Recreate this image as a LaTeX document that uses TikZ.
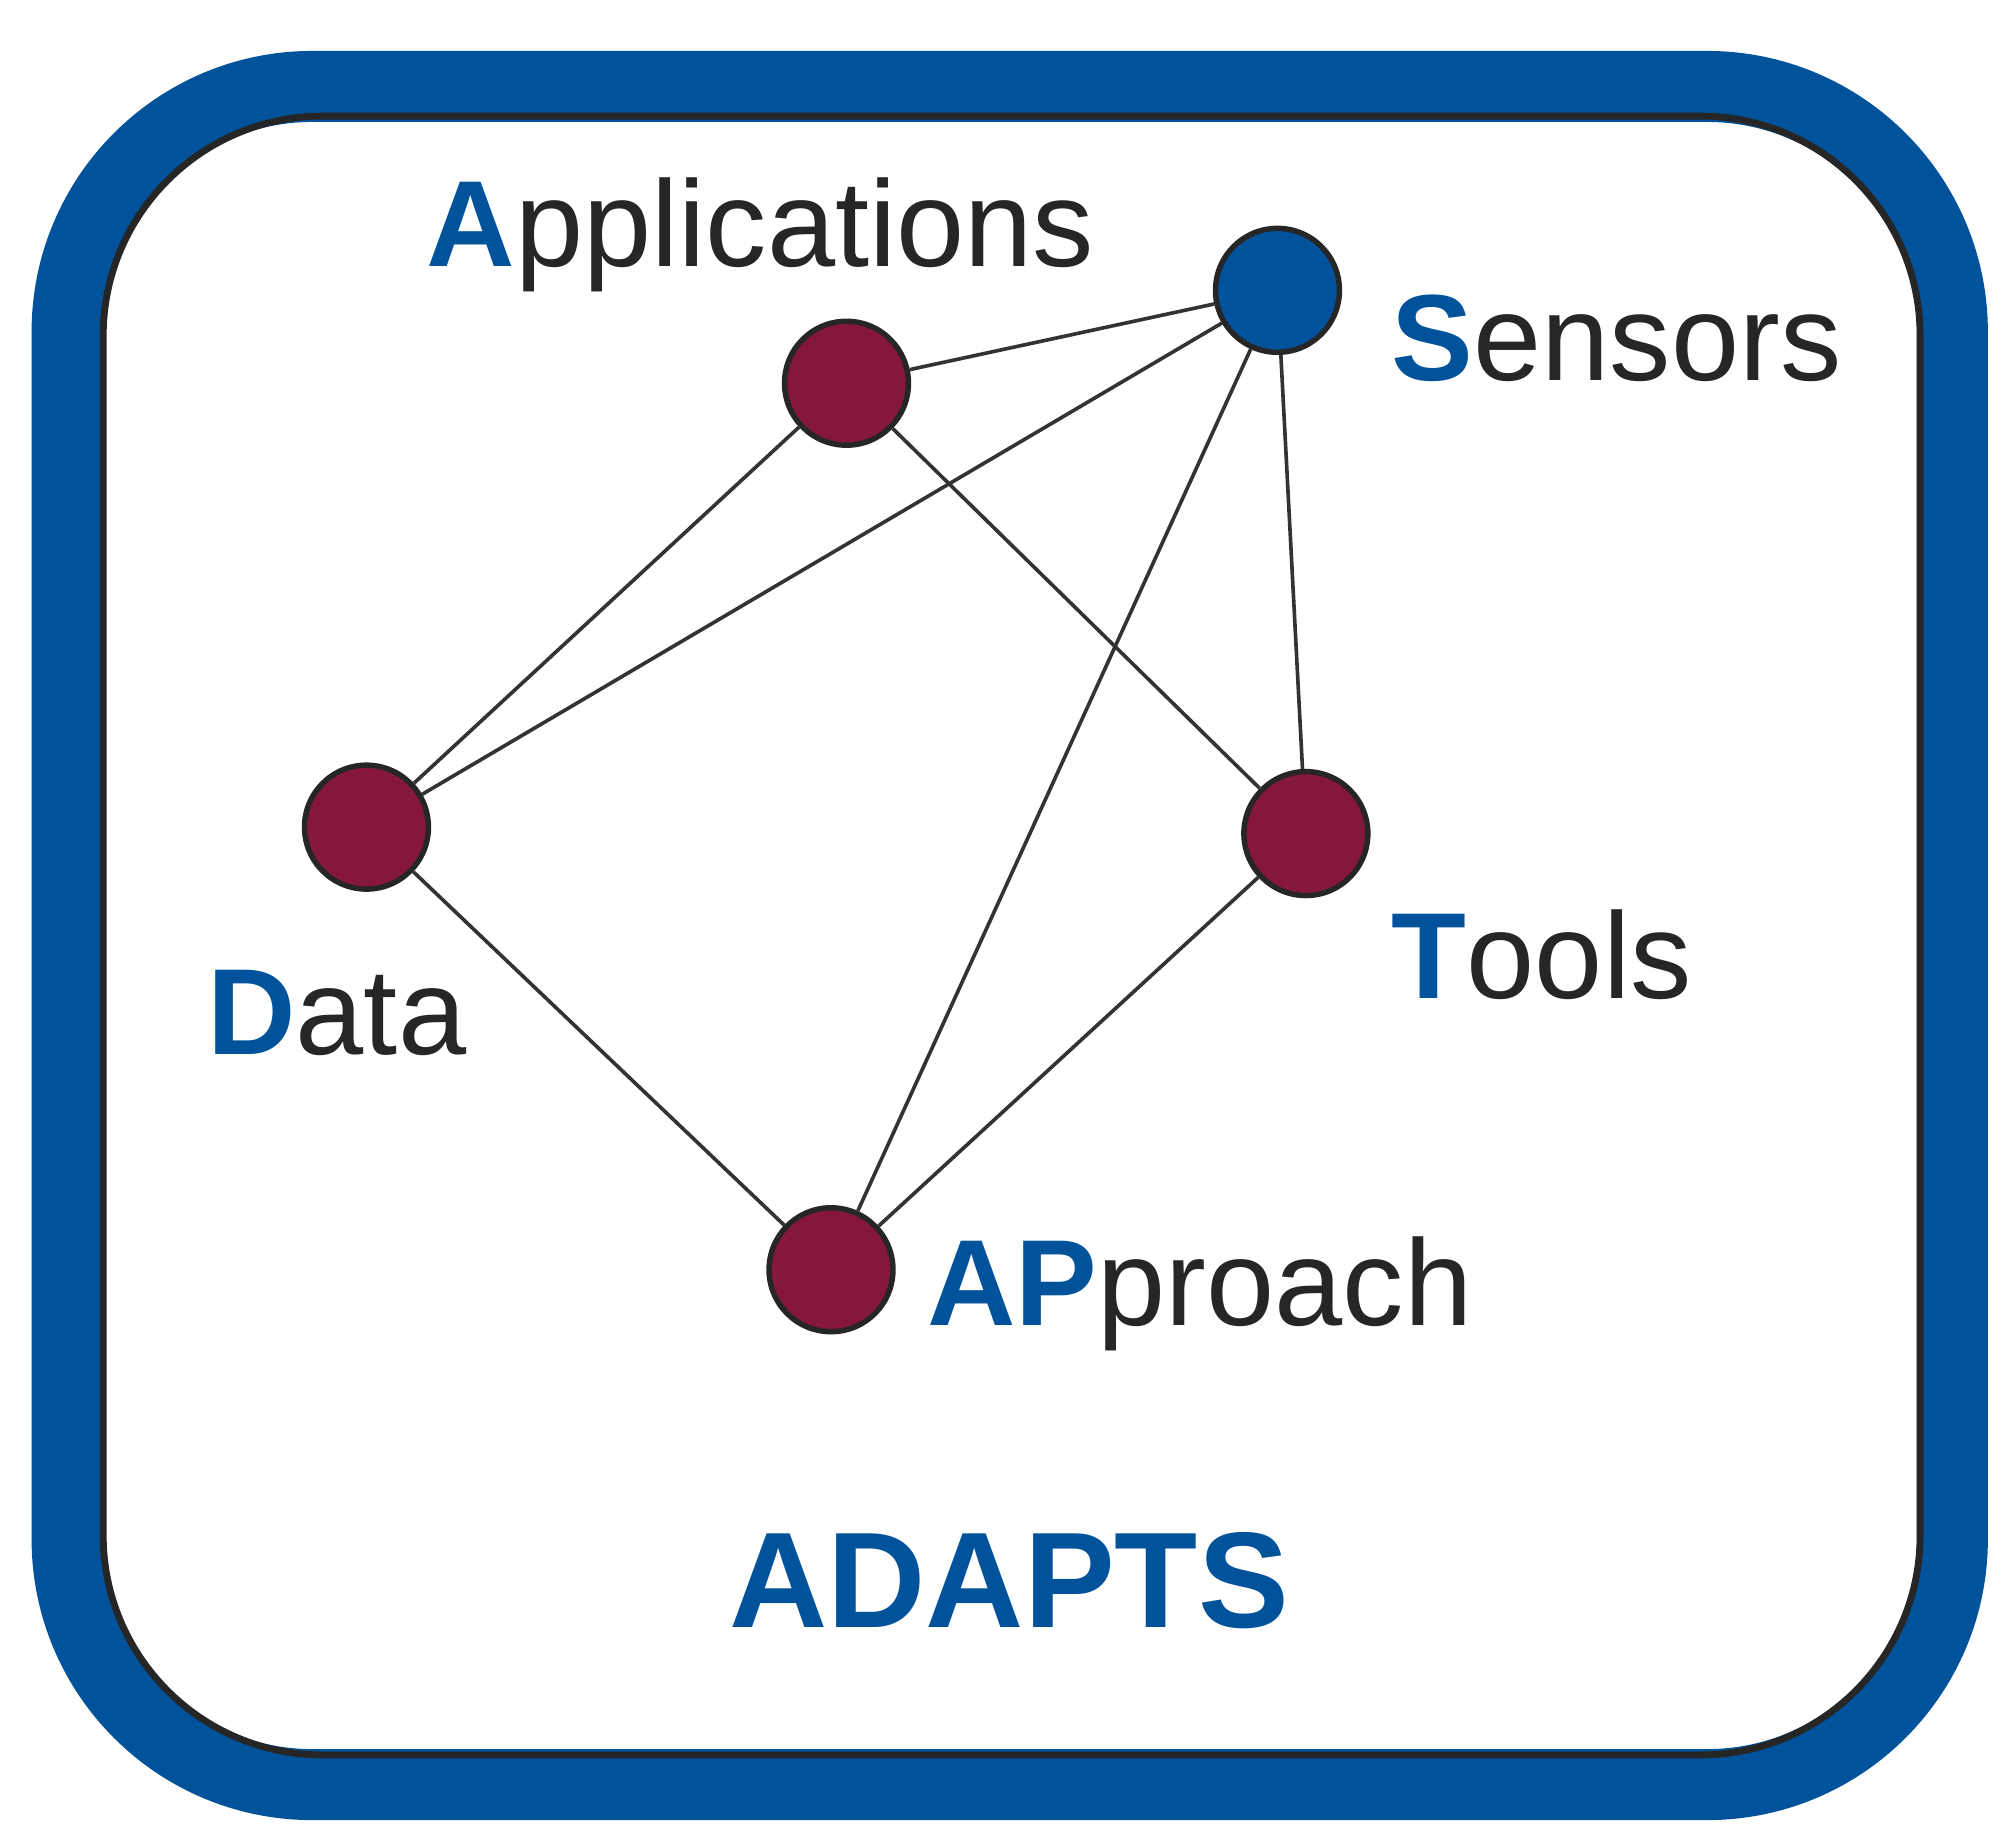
\documentclass[tikz,border=0pt]{standalone}
\usepackage{fontspec}
\setmainfont{Liberation Sans}
\definecolor{ablue}{HTML}{00529B}
\definecolor{maroon}{HTML}{84173B}
\begin{document}
\begin{tikzpicture}[x=0.01cm,y=-0.01cm,
  dot/.style={circle,draw=black!85,line width=1.2pt,minimum size=0.96cm,inner sep=0pt,fill=maroon},
  lab/.style={anchor=west,inner sep=0pt,font=\fontsize{27}{30}\selectfont,text=black!85},
  edge/.style={draw=black!80,line width=0.8pt}]
\useasboundingbox (0,0) rectangle (1560,1428);
\draw[ablue,line width=0.55cm,rounded corners=1.9cm] (52,67) rectangle (1513,1383);
\draw[black!85,line width=1.5pt,rounded corners=1.7cm] (80,90) rectangle (1488,1360);
\node[dot] (A) at (656,297) {};
\node[dot,fill=ablue] (S) at (990,225) {};
\node[dot] (D) at (284,641) {};
\node[dot] (T) at (1012,646) {};
\node[dot] (P) at (644,984) {};
\foreach \u/\v in {A/S,A/D,A/T,S/D,S/P,S/T,D/P,T/P} \draw[edge] (\u) -- (\v);
\node[lab] (lA) at (330,182) {\textcolor{ablue}{\textbf{A}}pplications};
\node[lab] (lS) at (1078,262) {\textcolor{ablue}{\textbf{S}}ensors};
\node[lab] (lD) at (160,785) {\textcolor{ablue}{\textbf{D}}ata};
\node[lab] (lT) at (1078,740) {\textcolor{ablue}{\textbf{T}}ools};
\node[lab] (lP) at (718,1003) {\textcolor{ablue}{\textbf{AP}}proach};
\node[font=\fontsize{30}{34}\selectfont\bfseries,text=ablue] (t) at (782,1225) {ADAPTS};
\end{tikzpicture}
\end{document}
